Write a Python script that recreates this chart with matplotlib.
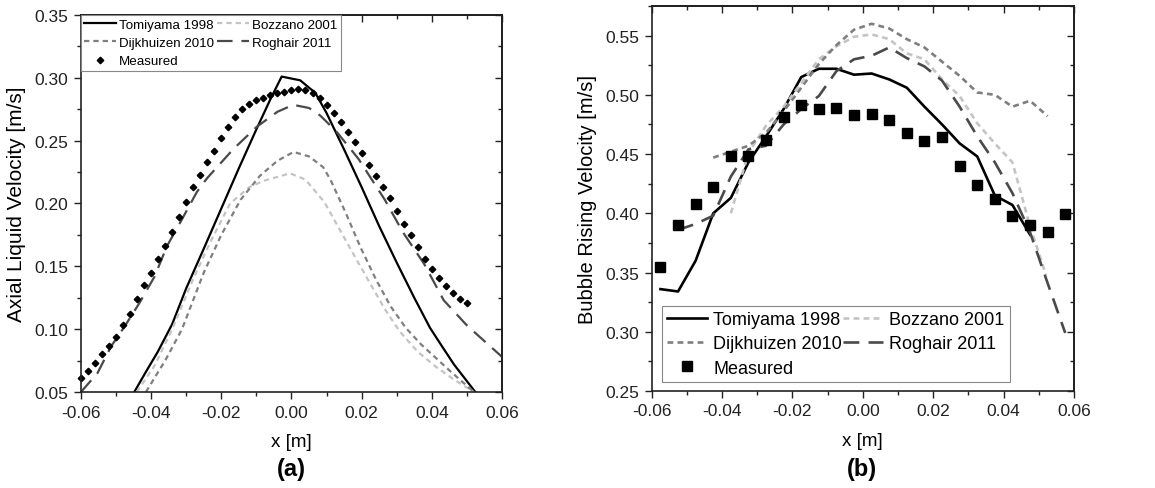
import matplotlib
matplotlib.use("Agg")
import matplotlib.pyplot as plt
from matplotlib.ticker import MultipleLocator, FormatStrFormatter

plt.rcParams['font.family'] = ['Liberation Sans', 'DejaVu Sans']

# ---------------- Panel (a): axial liquid velocity ----------------
a_meas_x = [-0.060, -0.058, -0.056, -0.054, -0.052, -0.050, -0.048, -0.046, -0.044, -0.042,
            -0.040, -0.038, -0.036, -0.034, -0.032, -0.030, -0.028, -0.026, -0.024, -0.022,
            -0.020, -0.018, -0.016, -0.014, -0.012, -0.010, -0.008, -0.006, -0.004, -0.002,
            0.000, 0.002, 0.004, 0.006, 0.008, 0.010, 0.012, 0.014, 0.016, 0.018,
            0.020, 0.022, 0.024, 0.026, 0.028, 0.030, 0.032, 0.034, 0.036, 0.038,
            0.040, 0.042, 0.044, 0.046, 0.048, 0.050]
a_meas_y = [0.061, 0.067, 0.073, 0.080, 0.087, 0.094, 0.103, 0.112, 0.124, 0.135,
            0.145, 0.156, 0.166, 0.177, 0.189, 0.201, 0.213, 0.223, 0.233, 0.242,
            0.252, 0.261, 0.269, 0.275, 0.279, 0.282, 0.284, 0.286, 0.288, 0.289,
            0.290, 0.291, 0.290, 0.288, 0.284, 0.278, 0.272, 0.265, 0.257, 0.249,
            0.240, 0.231, 0.222, 0.213, 0.204, 0.194, 0.184, 0.175, 0.165, 0.156,
            0.148, 0.141, 0.134, 0.129, 0.124, 0.121]

a_tomi_x = [-0.0448, -0.0415, -0.0381, -0.0340, -0.0300, -0.0250, -0.0200, -0.0150, -0.0100,
            -0.0060, -0.0028, 0.0025, 0.0068, 0.0100, 0.0150, 0.0200, 0.0250, 0.0300,
            0.0350, 0.0395, 0.0430, 0.0463, 0.0524]
a_tomi_y = [0.050, 0.066, 0.082, 0.104, 0.1325, 0.164, 0.196, 0.228, 0.259,
            0.283, 0.301, 0.298, 0.288, 0.272, 0.243, 0.213, 0.182, 0.153,
            0.125, 0.101, 0.086, 0.072, 0.050]

a_bozz_x = [-0.0441, -0.0390, -0.0340, -0.0280, -0.0230, -0.0175, -0.0120, -0.0080, -0.0004,
            0.0040, 0.0094, 0.0137, 0.0180, 0.0223, 0.0266, 0.0309, 0.0360, 0.0412,
            0.0463, 0.0520]
a_bozz_y = [0.050, 0.071, 0.100, 0.140, 0.170, 0.200, 0.213, 0.218, 0.224,
            0.219, 0.201, 0.1795, 0.158, 0.137, 0.116, 0.098, 0.082, 0.070,
            0.060, 0.050]

a_dijk_x = [-0.0415, -0.0360, -0.0312, -0.0250, -0.0200, -0.0145, -0.0090, -0.0040, 0.0006,
            0.0050, 0.0090, 0.0111, 0.0154, 0.0197, 0.0240, 0.0283, 0.0326, 0.0369,
            0.0412, 0.0455, 0.0520]
a_dijk_y = [0.050, 0.075, 0.100, 0.145, 0.175, 0.203, 0.222, 0.234, 0.241,
            0.2375, 0.229, 0.219, 0.193, 0.165, 0.140, 0.118, 0.101, 0.088,
            0.077, 0.066, 0.050]

a_rogh_x = [-0.0600, -0.0553, -0.0514, -0.0476, -0.0433, -0.0390, -0.0355, -0.0312, -0.0270,
            -0.0241, -0.0165, -0.0099, -0.0040, 0.0005, 0.0050, 0.0082, 0.0129, 0.0191,
            0.0266, 0.0318, 0.0378, 0.0434, 0.0500, 0.0600]
a_rogh_y = [0.050, 0.065, 0.0864, 0.102, 0.121, 0.142, 0.166, 0.1875, 0.209,
            0.220, 0.2435, 0.261, 0.273, 0.2785, 0.276, 0.270, 0.257, 0.2355,
            0.203, 0.177, 0.152, 0.123, 0.103, 0.078]

# ---------------- Panel (b): bubble rising velocity ----------------
b_x = [-0.0575, -0.0525, -0.0475, -0.0425, -0.0375, -0.0325, -0.0275, -0.0225, -0.0175, -0.0125,
       -0.0075, -0.0025, 0.0025, 0.0075, 0.0125, 0.0175, 0.0225, 0.0275, 0.0325, 0.0375,
       0.0425, 0.0475, 0.0525, 0.0575]
b_meas_y = [0.355, 0.390, 0.408, 0.422, 0.448, 0.448, 0.462, 0.481, 0.491, 0.488,
            0.489, 0.483, 0.484, 0.479, 0.468, 0.461, 0.464, 0.440, 0.424, 0.412,
            0.398, 0.390, 0.384, 0.399]

b_tomi_x = [-0.0575, -0.0525, -0.0475, -0.0425, -0.0375, -0.0325, -0.0275, -0.0225, -0.0175,
            -0.0125, -0.0075, -0.0025, 0.0025, 0.0075, 0.0125, 0.0175, 0.0225, 0.0275,
            0.0325, 0.0375, 0.0425, 0.0475]
b_tomi_y = [0.336, 0.334, 0.360, 0.400, 0.413, 0.443, 0.465, 0.488, 0.515,
            0.522, 0.522, 0.517, 0.518, 0.513, 0.506, 0.490, 0.475, 0.459,
            0.448, 0.415, 0.407, 0.382]

b_dijk_x = [-0.0425, -0.0375, -0.0325, -0.0275, -0.0225, -0.0175, -0.0125, -0.0075, -0.0025,
            0.0025, 0.0075, 0.0125, 0.0175, 0.0225, 0.0275, 0.0325, 0.0375, 0.0425,
            0.0475, 0.0525]
b_dijk_y = [0.447, 0.452, 0.457, 0.468, 0.486, 0.506, 0.526, 0.542, 0.555,
            0.560, 0.556, 0.547, 0.540, 0.528, 0.516, 0.502, 0.500, 0.490,
            0.495, 0.482]

b_bozz_x = [-0.0375, -0.0325, -0.0275, -0.0225, -0.0175, -0.0125, -0.0075, -0.0025, 0.0025,
            0.0075, 0.0125, 0.0175, 0.0225, 0.0275, 0.0325, 0.0375, 0.0425, 0.0475,
            0.0520]
b_bozz_y = [0.400, 0.451, 0.474, 0.490, 0.510, 0.530, 0.541, 0.549, 0.551,
            0.547, 0.535, 0.530, 0.513, 0.499, 0.476, 0.459, 0.443, 0.389,
            0.348]

b_rogh_x = [-0.0525, -0.0475, -0.0425, -0.0375, -0.0325, -0.0275, -0.0225, -0.0175, -0.0125,
            -0.0075, -0.0025, 0.0025, 0.0075, 0.0125, 0.0175, 0.0225, 0.0275, 0.0325,
            0.0375, 0.0425, 0.0475, 0.0525, 0.0575]
b_rogh_y = [0.386, 0.391, 0.398, 0.431, 0.454, 0.457, 0.475, 0.488, 0.499,
            0.520, 0.530, 0.533, 0.540, 0.531, 0.524, 0.512, 0.490, 0.465,
            0.443, 0.417, 0.384, 0.341, 0.299]

labels = ["Tomiyama 1998", "Bozzano 2001", "Dijkhuizen 2010", "Roghair 2011", "Measured"]
x_ticks = [-0.06, -0.04, -0.02, 0.00, 0.02, 0.04, 0.06]

C_TOMI = "#000000"
C_BOZZ = "#c4c4c4"
C_DIJK = "#7f7f7f"
C_ROGH = "#4a4a4a"
C_AX = "#222222"

fig = plt.figure(figsize=(11.55, 4.89), dpi=100)
axA = fig.add_axes([0.0701, 0.1963, 0.3645, 0.7710])
axB = fig.add_axes([0.5642, 0.1984, 0.3657, 0.7873])


def style_axes(ax, ymajor, yminor):
    ax.set_xlim(-0.06, 0.06)
    ax.set_xticks(x_ticks)
    ax.xaxis.set_minor_locator(MultipleLocator(0.01))
    ax.yaxis.set_major_locator(MultipleLocator(ymajor))
    ax.yaxis.set_minor_locator(MultipleLocator(yminor))
    ax.xaxis.set_major_formatter(FormatStrFormatter('%.2f'))
    ax.yaxis.set_major_formatter(FormatStrFormatter('%.2f'))
    ax.tick_params(which='both', direction='out', top=False, right=False, labelsize=12.5,
                   colors=C_AX, width=1.0, pad=4)
    ax.tick_params(which='major', length=5)
    ax.tick_params(which='minor', length=3)
    for s in ax.spines.values():
        s.set_linewidth(1.2)
        s.set_color(C_AX)
    axt = ax.secondary_xaxis('top')
    axt.set_xticks(x_ticks)
    axt.xaxis.set_minor_locator(MultipleLocator(0.01))
    axt.tick_params(which='both', direction='in', labeltop=False, width=1.0, colors=C_AX)
    axt.tick_params(which='major', length=5)
    axt.tick_params(which='minor', length=3)
    axt.spines['top'].set_linewidth(1.2)
    axr = ax.secondary_yaxis('right')
    axr.yaxis.set_major_locator(MultipleLocator(ymajor))
    axr.yaxis.set_minor_locator(MultipleLocator(yminor))
    axr.tick_params(which='both', direction='in', labelright=False, width=1.0, colors=C_AX)
    axr.tick_params(which='major', length=5)
    axr.tick_params(which='minor', length=3)
    axr.spines['right'].set_linewidth(1.2)


# ---- panel (a)
lw_a = 1.6
hT, = axA.plot(a_tomi_x, a_tomi_y, color=C_TOMI, lw=lw_a, label=labels[0])
hB, = axA.plot(a_bozz_x, a_bozz_y, color=C_BOZZ, lw=lw_a, ls=(0, (2.4, 1.8)), label=labels[1])
hD, = axA.plot(a_dijk_x, a_dijk_y, color=C_DIJK, lw=lw_a, ls=(0, (2.4, 1.8)), label=labels[2])
hR, = axA.plot(a_rogh_x, a_rogh_y, color=C_ROGH, lw=lw_a, ls=(0, (7, 4)), label=labels[3])
hM, = axA.plot(a_meas_x, a_meas_y, ls='none', marker='D', ms=3.3, color='black',
               label=labels[4], clip_on=False)
axA.set_ylim(0.05, 0.35)
style_axes(axA, 0.05, 0.025)
axA.set_xlabel("x [m]", fontsize=13.5, labelpad=10)
axA.set_ylabel("Axial Liquid Velocity [m/s]", fontsize=15, labelpad=6)
legA = axA.legend([hT, hD, hM, hB, hR],
                  [labels[0], labels[2], labels[4], labels[1], labels[3]],
                  ncol=2, loc='upper left', borderaxespad=0.0, fontsize=9.6,
                  frameon=True, fancybox=False, edgecolor='#888888', framealpha=1,
                  handlelength=2.4, handletextpad=0.2, columnspacing=0.25,
                  labelspacing=0.45, borderpad=0.25)
legA.get_frame().set_linewidth(0.8)

# ---- panel (b)
lw_b = 1.9
gT, = axB.plot(b_tomi_x, b_tomi_y, color=C_TOMI, lw=lw_b, label=labels[0])
gB, = axB.plot(b_bozz_x, b_bozz_y, color=C_BOZZ, lw=lw_b, ls=(0, (2.2, 1.6)), label=labels[1])
gD, = axB.plot(b_dijk_x, b_dijk_y, color=C_DIJK, lw=lw_b, ls=(0, (2.2, 1.6)), label=labels[2])
gR, = axB.plot(b_rogh_x, b_rogh_y, color=C_ROGH, lw=lw_b, ls=(0, (6, 3.5)), label=labels[3])
gM, = axB.plot(b_x, b_meas_y, ls='none', marker='s', ms=6.5, color='black', label=labels[4])
axB.set_ylim(0.25, 0.575)
style_axes(axB, 0.05, 0.025)
axB.set_xlabel("x [m]", fontsize=13.5, labelpad=10)
axB.set_ylabel("Bubble Rising Velocity [m/s]", fontsize=14.5, labelpad=6)
legB = axB.legend([gT, gD, gM, gB, gR],
                  [labels[0], labels[2], labels[4], labels[1], labels[3]],
                  ncol=2, loc='lower left', bbox_to_anchor=(0.024, 0.023), borderaxespad=0.0,
                  fontsize=13, frameon=True, fancybox=False, edgecolor='#888888', framealpha=1,
                  handlelength=2.2, handletextpad=0.35, columnspacing=0.05,
                  labelspacing=0.4, borderpad=0.3)
legB.get_frame().set_linewidth(0.8)

fig.text(291 / 1155, 1 - 470 / 489, "(a)", fontsize=17, fontweight='bold', ha='center', va='center')
fig.text(862 / 1155, 1 - 470 / 489, "(b)", fontsize=17, fontweight='bold', ha='center', va='center')

fig.savefig("out.png", dpi=100)
